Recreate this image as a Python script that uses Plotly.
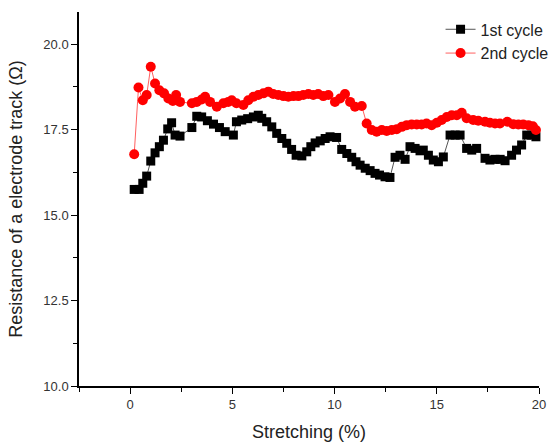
import plotly.graph_objects as go

# 1st cycle
x1 = [0.20, 0.44, 0.62, 0.81, 1.01, 1.22, 1.43, 1.63, 1.84, 2.03, 2.20, 2.44,
      3.02, 3.26, 3.50, 3.78, 4.08, 4.37, 4.65, 5.05, 5.20, 5.46, 5.75, 6.03,
      6.27, 6.44, 6.68, 6.93, 7.17, 7.42, 7.66, 7.90, 8.12, 8.40, 8.64, 8.84,
      9.05, 9.30, 9.54, 9.78, 10.10, 10.35, 10.60, 10.84, 11.05, 11.25, 11.50,
      11.74, 11.98, 12.20, 12.47, 12.71, 12.96, 13.20, 13.45, 13.69, 13.94,
      14.18, 14.34, 14.59, 14.83, 15.08, 15.32, 15.65, 15.90, 16.14, 16.46,
      16.71, 16.95, 17.36, 17.60, 17.85, 18.10, 18.34, 18.66, 18.90, 19.15,
      19.40, 19.64, 19.85]
y1 = [15.75, 15.75, 15.93, 16.14, 16.58, 16.82, 17.00, 17.19, 17.52, 17.70,
      17.34, 17.31, 17.56, 17.89, 17.87, 17.76, 17.66, 17.56, 17.44, 17.34,
      17.73, 17.78, 17.82, 17.87, 17.92, 17.83, 17.73, 17.58, 17.39, 17.24,
      17.10, 16.92, 16.75, 16.73, 16.85, 17.00, 17.11, 17.17, 17.24, 17.29,
      17.27, 16.92, 16.80, 16.69, 16.56, 16.46, 16.37, 16.30, 16.22, 16.17,
      16.12, 16.10, 16.69, 16.75, 16.63, 17.00, 16.95, 16.88, 16.90, 16.75,
      16.61, 16.56, 16.70, 17.34, 17.34, 17.34, 16.95, 16.90, 16.95, 16.66,
      16.61, 16.63, 16.63, 16.59, 16.75, 16.90, 17.05, 17.34, 17.34, 17.29]

# 2nd cycle
x2 = [0.20, 0.41, 0.62, 0.81, 1.01, 1.22, 1.43, 1.66, 1.87, 2.09, 2.25, 2.44,
      3.02, 3.26, 3.50, 3.67, 3.91, 4.24, 4.56, 4.80, 4.97, 5.20, 5.54, 5.78,
      6.03, 6.27, 6.52, 6.76, 7.00, 7.25, 7.50, 7.74, 7.99, 8.23, 8.47, 8.72,
      8.96, 9.20, 9.45, 9.70, 10.02, 10.27, 10.51, 10.76, 11.00, 11.33, 11.57,
      11.82, 12.06, 12.31, 12.55, 12.80, 13.04, 13.29, 13.53, 13.77, 14.02,
      14.26, 14.50, 14.75, 15.00, 15.24, 15.49, 15.73, 15.98, 16.22, 16.46,
      16.78, 17.03, 17.36, 17.60, 17.85, 18.09, 18.45, 18.74, 18.99, 19.23,
      19.48, 19.70, 19.85]
y2 = [16.78, 18.73, 18.36, 18.51, 19.34, 18.85, 18.65, 18.56, 18.41, 18.34,
      18.51, 18.31, 18.27, 18.31, 18.38, 18.46, 18.31, 18.17, 18.27, 18.31,
      18.36, 18.27, 18.22, 18.36, 18.46, 18.51, 18.56, 18.61, 18.54, 18.51,
      18.48, 18.46, 18.48, 18.48, 18.51, 18.54, 18.51, 18.54, 18.48, 18.51,
      18.31, 18.41, 18.54, 18.31, 18.17, 18.19, 17.68, 17.49, 17.44, 17.49,
      17.46, 17.49, 17.51, 17.58, 17.63, 17.65, 17.65, 17.65, 17.68, 17.63,
      17.70, 17.78, 17.87, 17.92, 17.92, 17.99, 17.83, 17.78, 17.76, 17.73,
      17.70, 17.68, 17.68, 17.73, 17.66, 17.65, 17.65, 17.63, 17.60, 17.49]

FONT = "Arial, Liberation Sans, sans-serif"

fig = go.Figure()
fig.add_trace(go.Scatter(
    x=x1, y=y1, mode="lines+markers", name="1st cycle",
    line=dict(color="#555555", width=1),
    marker=dict(symbol="square", size=9, color="black"),
    cliponaxis=False))
fig.add_trace(go.Scatter(
    x=x2, y=y2, mode="lines+markers", name="2nd cycle",
    line=dict(color="#ff6060", width=1),
    marker=dict(symbol="circle", size=10, color="#ff0000"),
    cliponaxis=False))

fig.update_layout(
    width=550, height=443,
    margin=dict(l=79, r=11, t=12, b=57, autoexpand=False),
    paper_bgcolor="white", plot_bgcolor="white",
    font=dict(family=FONT, color="#222222"),
    showlegend=True,
    legend=dict(x=0.786, y=0.999, xanchor="left", yanchor="top",
                bgcolor="rgba(0,0,0,0)", font=dict(size=16, color="#222222"),
                itemwidth=30, tracegroupgap=0),
)
fig.update_xaxes(
    range=[-2.5, 20], tick0=0, dtick=5, automargin=False,
    showline=True, linecolor="black", linewidth=1.5,
    ticks="outside", ticklen=6, tickwidth=1.2, tickcolor="black",
    minor=dict(ticks="outside", ticklen=4, dtick=2.5, tickcolor="black", tickwidth=1),
    showgrid=False, zeroline=False,
    tickfont=dict(size=13, color="#333333"),
    title=dict(text="Stretching (%)", font=dict(size=18, color="#222222"), standoff=14),
)
fig.update_yaxes(
    range=[10, 20.94], tick0=10, dtick=2.5, tickformat=".1f", automargin=False,
    showline=True, linecolor="black", linewidth=1.5,
    ticks="outside", ticklen=6, tickwidth=1.2, tickcolor="black",
    minor=dict(ticks="outside", ticklen=4, dtick=1.25, tickcolor="black", tickwidth=1),
    showgrid=False, zeroline=False,
    tickfont=dict(size=13, color="#333333"),
    title=dict(text="Resistance of a electrode track (Ω)", font=dict(size=18, color="#222222"), standoff=16),
)

fig.write_html("out.html", config={"displayModeBar": False},
               post_script="document.body.style.margin='0px';document.body.style.overflow='hidden';")
